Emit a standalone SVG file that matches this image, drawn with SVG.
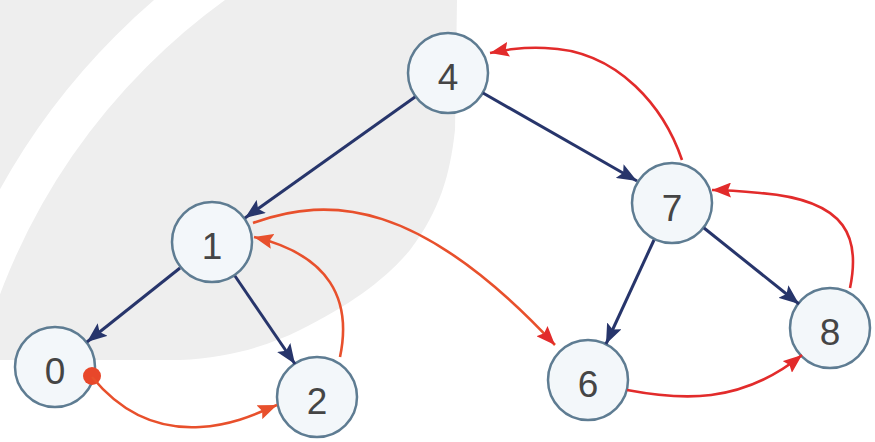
<svg xmlns="http://www.w3.org/2000/svg" width="875" height="442" viewBox="0 0 875 442">
<style>
.node circle{fill:#f3f7fa;stroke:#5e7c92;stroke-width:2.5}
.node text{font-family:"Liberation Sans",Arial,sans-serif;font-size:37px;fill:#454545;text-anchor:middle}
.tree{fill:none;stroke:#27356b;stroke-width:3}
.thr{fill:none;stroke-width:2.6}
.or{stroke:#e8502c}
.rd{stroke:#e22b2b}
</style>
<defs>
<marker id="an" markerUnits="userSpaceOnUse" markerWidth="20" markerHeight="16" refX="20" refY="8" orient="auto"><path d="M0,0 L20,8 L0,16 L4,8 z" fill="#27356b"/></marker>
<marker id="ao" markerUnits="userSpaceOnUse" markerWidth="19" markerHeight="15" refX="19" refY="7.5" orient="auto"><path d="M0,0 L19,7.5 L0,15 L3,7.5 z" fill="#e8502c"/></marker>
<marker id="ar" markerUnits="userSpaceOnUse" markerWidth="19" markerHeight="15" refX="19" refY="7.5" orient="auto"><path d="M0,0 L19,7.5 L0,15 L3,7.5 z" fill="#e22b2b"/></marker>
<clipPath id="bgclip"><path d="M0,0 L457,0 L455,130 C450,175 440,210 410,250 C385,280 350,305 300,330 C270,345 230,358 180,360 L0,360 z"/></clipPath>
</defs>
<rect width="875" height="442" fill="#ffffff"/>
<g id="background" clip-path="url(#bgclip)">
<rect width="875" height="442" fill="#eeeeee"/>
<circle cx="600" cy="520" r="663" fill="none" stroke="#ffffff" stroke-width="44"/>
</g>
<g id="node-4" class="node"><circle cx="448" cy="73" r="40"/><text x="448" y="90">4</text></g>
<g id="node-1" class="node"><circle cx="212" cy="242" r="40"/><text x="212" y="259">1</text></g>
<g id="node-7" class="node"><circle cx="672" cy="203" r="40"/><text x="672" y="221">7</text></g>
<g id="node-0" class="node"><circle cx="55" cy="367" r="40"/><text x="55" y="384">0</text></g>
<g id="node-2" class="node"><circle cx="317" cy="397" r="40"/><text x="317" y="414">2</text></g>
<g id="node-6" class="node"><circle cx="588" cy="380" r="40"/><text x="588" y="397">6</text></g>
<g id="node-8" class="node"><circle cx="830" cy="328" r="40"/><text x="830" y="345">8</text></g>
<g id="connectors">
<line class="tree" x1="415" y1="97" x2="245" y2="218" marker-end="url(#an)"/>
<line class="tree" x1="483" y1="93" x2="637" y2="181" marker-end="url(#an)"/>
<line class="tree" x1="180" y1="268" x2="87" y2="342" marker-end="url(#an)"/>
<line class="tree" x1="235" y1="276" x2="295" y2="364" marker-end="url(#an)"/>
<line class="tree" x1="654" y1="240" x2="606" y2="344" marker-end="url(#an)"/>
<line class="tree" x1="704" y1="228" x2="799" y2="304" marker-end="url(#an)"/>
<circle cx="92" cy="376" r="9" fill="#e8472a"/>
<path class="thr or" d="M92,377 C115,405 150,430 200,427 C235,425 260,412 277,405" marker-end="url(#ao)"/>
<path class="thr or" d="M340,357 C352,300 330,255 254,237" marker-end="url(#ao)"/>
<path class="thr or" d="M253,223 C330,195 420,200 555,345" marker-end="url(#ar)"/>
<path class="thr rd" d="M682,160 C665,110 620,50 545,48 C520,47 505,50 490,53" marker-end="url(#ar)"/>
<path class="thr rd" d="M850,288 C860,240 850,200 760,193 C740,191 725,190 712,190" marker-end="url(#ar)"/>
<path class="thr rd" d="M627,390 C680,400 740,405 802,355" marker-end="url(#ar)"/>
</g>
</svg>
